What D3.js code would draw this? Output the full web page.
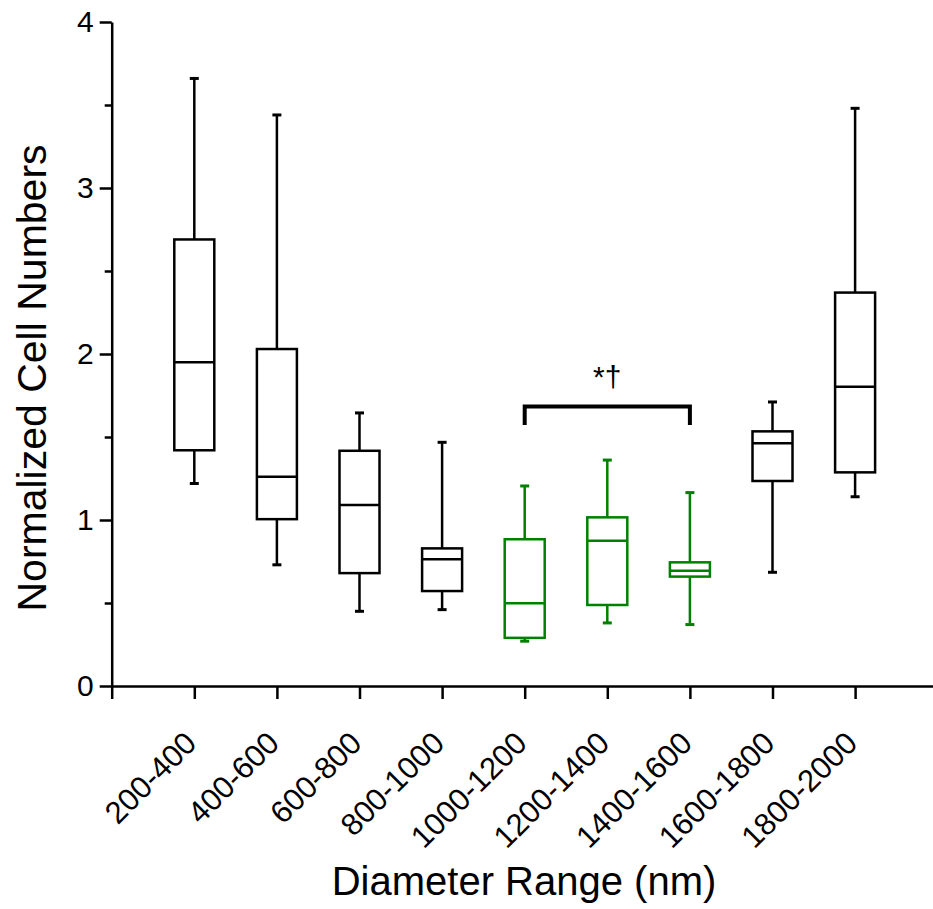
<!DOCTYPE html>
<html>
<head>
<meta charset="utf-8">
<script src="https://cdn.jsdelivr.net/npm/d3@7"></script>
<style>
  body { margin: 0; background: #fff; }
  text { font-family: Arial, "Liberation Sans", sans-serif; }
</style>
</head>
<body>
<div id="chart"></div>
<script>
// box plot data
var categories = ["200-400", "400-600", "600-800", "800-1000", "1000-1200",
                  "1200-1400", "1400-1600", "1600-1800", "1800-2000"];
var whiskerLow  = [1.22, 0.73, 0.45, 0.46, 0.27, 0.38, 0.37, 0.685, 1.14];
var q1          = [1.42, 1.005, 0.68, 0.572, 0.29, 0.488, 0.659, 1.235, 1.287];
var median      = [1.95, 1.26, 1.09, 0.763, 0.498, 0.875, 0.695, 1.462, 1.803];
var q3          = [2.69, 2.03, 1.417, 0.829, 0.884, 1.016, 0.745, 1.534, 2.37];
var whiskerHigh = [3.66, 3.44, 1.645, 1.468, 1.205, 1.361, 1.165, 1.711, 3.48];
var highlighted = [false, false, false, false, true, true, true, false, false];

var yTicks = [0, 1, 2, 3, 4];
var yMinorTicks = [0.5, 1.5, 2.5, 3.5];

// significance bracket
var bracketFrom = "1000-1200", bracketTo = "1400-1600";
var bracketTop = 1.683, bracketDrop = 1.572, bracketLabelY = 1.8;
var bracketLabel = "*\u2020";

var width = 933, height = 909;
var svg = d3.select("#chart").append("svg")
    .attr("width", width)
    .attr("height", height);

var x = d3.scaleLinear().domain([0, 10]).range([111.7, 937.7]);
var y = d3.scaleLinear().domain([0, 4]).range([686, 22]);

function xc(name) { return x(categories.indexOf(name) + 1); }

var boxes = categories.map(function(c, i) {
    return { name: c, lo: whiskerLow[i], q1: q1[i], med: median[i],
             q3: q3[i], hi: whiskerHigh[i],
             color: highlighted[i] ? "#008000" : "#000" };
});

// Axes
var xAxis = svg.append("g")
    .attr("transform", "translate(0," + y(0) + ")")
    .call(d3.axisBottom(x).tickValues(d3.range(0, 10)).tickSize(13)
          .tickSizeOuter(0).tickFormat(""));
xAxis.select(".domain").attr("stroke-width", 2.5);
xAxis.selectAll(".tick line").attr("stroke-width", 2.5);

var yMinor = svg.append("g")
    .attr("transform", "translate(" + x(0) + ",0)")
    .call(d3.axisLeft(y).tickValues(yMinorTicks).tickSize(7).tickFormat(""));
yMinor.select(".domain").remove();
yMinor.selectAll(".tick line").attr("stroke-width", 2.5);

var yAxis = svg.append("g")
    .attr("transform", "translate(" + x(0) + ",0)")
    .call(d3.axisLeft(y).tickValues(yTicks).tickSize(12).tickSizeOuter(0)
          .tickPadding(6).tickFormat(d3.format("d")));
yAxis.select(".domain").attr("stroke-width", 2.5);
yAxis.selectAll(".tick line").attr("stroke-width", 2.5);
yAxis.selectAll(".tick text")
    .attr("font-size", "30px")
    .attr("fill", "#000")
    .style("font-family", "Arial, 'Liberation Sans', sans-serif");

// rotated category labels
svg.append("g").selectAll("text")
    .data(categories)
    .enter().append("text")
    .attr("transform", function(d, i) {
        return "translate(" + (x(i + 1) + 4) + "," + 745 + ") rotate(-45)";
    })
    .attr("text-anchor", "end")
    .attr("font-size", "31px")
    .attr("fill", "#000")
    .text(function(d) { return d; });

// axis titles
svg.append("text")
    .attr("x", 524)
    .attr("y", 895)
    .attr("text-anchor", "middle")
    .attr("font-size", "40px")
    .text("Diameter Range (nm)");

svg.append("text")
    .attr("transform", "translate(46,378) rotate(-90)")
    .attr("text-anchor", "middle")
    .attr("font-size", "41px")
    .text("Normalized Cell Numbers");

// Boxes
var boxW = 40, capW = 9;
var g = svg.append("g").selectAll("g")
    .data(boxes)
    .enter().append("g")
    .attr("stroke", function(d) { return d.color; })
    .attr("fill", "none");

g.append("line")
    .attr("x1", function(d) { return xc(d.name); })
    .attr("x2", function(d) { return xc(d.name); })
    .attr("y1", function(d) { return y(d.hi); })
    .attr("y2", function(d) { return y(d.q3); })
    .attr("stroke-width", 2.5);

g.append("line")
    .attr("x1", function(d) { return xc(d.name); })
    .attr("x2", function(d) { return xc(d.name); })
    .attr("y1", function(d) { return y(d.q1); })
    .attr("y2", function(d) { return y(d.lo); })
    .attr("stroke-width", 2.5);

g.selectAll(".cap")
    .data(function(d) { return [d.hi, d.lo].map(function(v) { return { v: v, name: d.name }; }); })
    .enter().append("line")
    .attr("class", "cap")
    .attr("x1", function(d) { return xc(d.name) - capW / 2; })
    .attr("x2", function(d) { return xc(d.name) + capW / 2; })
    .attr("y1", function(d) { return y(d.v); })
    .attr("y2", function(d) { return y(d.v); })
    .attr("stroke-width", 3);

g.append("rect")
    .attr("x", function(d) { return xc(d.name) - boxW / 2; })
    .attr("y", function(d) { return y(d.q3); })
    .attr("width", boxW)
    .attr("height", function(d) { return y(d.q1) - y(d.q3); })
    .attr("fill", "#fff")
    .attr("stroke-width", 2.5);

g.append("line")
    .attr("x1", function(d) { return xc(d.name) - boxW / 2; })
    .attr("x2", function(d) { return xc(d.name) + boxW / 2; })
    .attr("y1", function(d) { return y(d.med); })
    .attr("y2", function(d) { return y(d.med); })
    .attr("stroke-width", 2.5);

// significance bracket
var bx1 = xc(bracketFrom), bx2 = xc(bracketTo);
svg.append("path")
    .attr("d", "M" + bx1 + "," + y(bracketDrop) + "V" + y(bracketTop) +
               "H" + bx2 + "V" + y(bracketDrop))
    .attr("fill", "none")
    .attr("stroke", "#000")
    .attr("stroke-width", 4);

svg.append("text")
    .attr("x", (bx1 + bx2) / 2)
    .attr("y", y(bracketLabelY))
    .attr("text-anchor", "middle")
    .attr("font-size", "30px")
    .text(bracketLabel);
</script>
</body>
</html>
